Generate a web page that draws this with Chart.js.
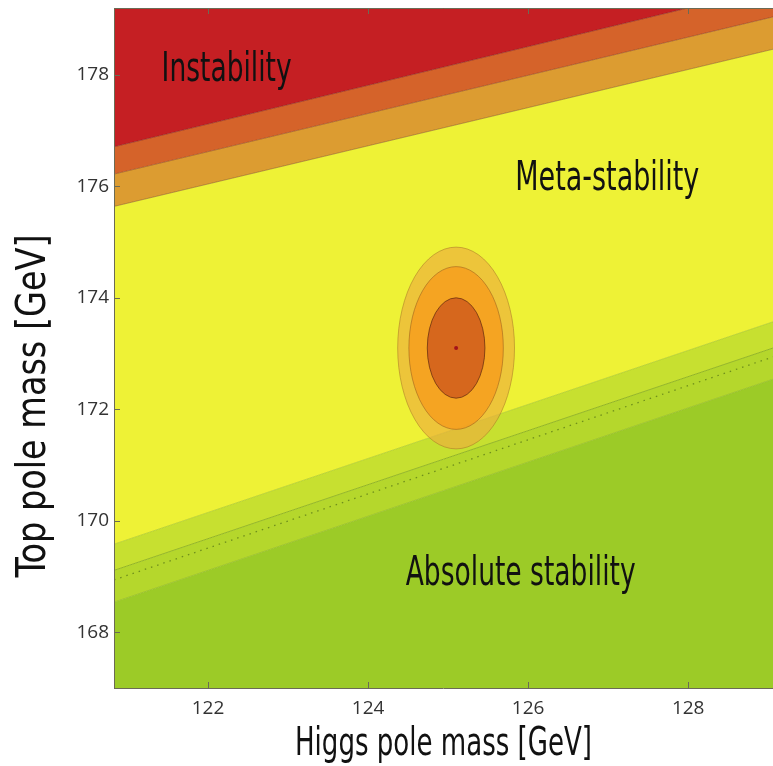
<!DOCTYPE html>
<html>
<head>
<meta charset="utf-8">
<script src="https://cdn.jsdelivr.net/npm/chart.js@4.4.1/dist/chart.umd.min.js"></script>
<style>
  html, body { margin: 0; padding: 0; background: #fff; }
  #wrap { width: 773px; height: 766px; }
</style>
</head>
<body>
<div id="wrap"><canvas id="chart" width="773" height="766"></canvas></div>
<script>
// Higgs mass at the left and right edge of the plot
const higgsEdges = [120.825, 129.06];

// top mass of each boundary line at those two edges
const instabilityEdge = [176.71, 179.57];
const orangeEdge = [176.22, 179.04];
const metaEdge = [175.64, 178.46];
const stableUpperEdge = [169.58, 173.57];
const stableLine = [169.11, 173.10];
const stableDotted = [168.94, 172.94];
const stableLowerEdge = [168.54, 172.54];

// measured point and its 1/2/3 sigma ellipses
const higgsMeasured = 125.1;
const topMeasured = 173.1;
const sigmaHiggs = [0.73, 0.59, 0.36];
const sigmaTop = [1.81, 1.46, 0.90];

const xTickLabels = [122, 124, 126, 128];
const yTickLabels = [168, 170, 172, 174, 176, 178];

const regionLabels = [
  { text: 'Instability', x: 121.42, y: 178.07 },
  { text: 'Meta-stability', x: 125.84, y: 176.12 },
  { text: 'Absolute stability', x: 124.47, y: 169.04 }
];
const regionLabelWidths = [130, 184, 230];

const narrow = "'DejaVu Sans Condensed', 'Liberation Sans Narrow', sans-serif";

function pts(vals) {
  return higgsEdges.map((h, i) => ({ x: h, y: vals[i] }));
}

function band(vals, color, fill, border) {
  return {
    data: pts(vals),
    backgroundColor: color,
    borderColor: border || 'rgba(0,0,0,0)',
    borderWidth: border ? 1 : 0,
    fill: fill,
    pointRadius: 0,
    tension: 0
  };
}

// squeezed text, the original uses a very narrow face
function drawNarrow(ctx, text, x, y, size, width, align) {
  ctx.save();
  ctx.font = size + 'px ' + narrow;
  const w = ctx.measureText(text).width;
  ctx.translate(x, y);
  ctx.scale(width / w, 1);
  ctx.textAlign = align;
  ctx.textBaseline = 'middle';
  ctx.fillText(text, 0, 0);
  ctx.restore();
}

const ellipsePlugin = {
  id: 'ellipses',
  afterDatasetsDraw(chart) {
    const { ctx, chartArea, scales: { x, y } } = chart;
    const fills = ['rgba(236,176,60,0.68)', 'rgba(246,158,30,0.86)', 'rgba(212,100,30,0.95)'];
    const lines = ['rgba(170,120,40,0.55)', 'rgba(160,100,30,0.6)', 'rgba(110,50,15,0.8)'];
    const cx = x.getPixelForValue(higgsMeasured);
    const cy = y.getPixelForValue(topMeasured);
    ctx.save();
    ctx.beginPath();
    ctx.rect(chartArea.left, chartArea.top, chartArea.width, chartArea.height);
    ctx.clip();
    sigmaHiggs.forEach((sh, i) => {
      const rx = x.getPixelForValue(higgsMeasured + sh) - cx;
      const ry = cy - y.getPixelForValue(topMeasured + sigmaTop[i]);
      ctx.beginPath();
      ctx.ellipse(cx, cy, rx, ry, 0, 0, Math.PI * 2);
      ctx.fillStyle = fills[i];
      ctx.fill();
      ctx.lineWidth = 1;
      ctx.strokeStyle = lines[i];
      ctx.stroke();
    });
    ctx.beginPath();
    ctx.arc(cx, cy, 2, 0, Math.PI * 2);
    ctx.fillStyle = '#a3121a';
    ctx.fill();

    ctx.fillStyle = '#111';
    regionLabels.forEach((l, i) => {
      drawNarrow(ctx, l.text, x.getPixelForValue(l.x), y.getPixelForValue(l.y), 40, regionLabelWidths[i], 'left');
    });
    ctx.restore();
  }
};

// inward tick marks on the frame, plus both axis titles
const framePlugin = {
  id: 'frame',
  afterDraw(chart) {
    const { ctx, chartArea: a, scales: { x, y } } = chart;
    ctx.save();
    ctx.strokeStyle = '#6b6b55';
    ctx.lineWidth = 1;
    ctx.beginPath();
    x.ticks.forEach(t => {
      if (Math.abs(t.value * 2 - Math.round(t.value * 2)) > 1e-6) return;
      const len = xTickLabels.includes(t.value) ? 6 : 3;
      const px = Math.round(x.getPixelForValue(t.value)) + 0.5;
      ctx.moveTo(px, a.bottom); ctx.lineTo(px, a.bottom - len);
      ctx.moveTo(px, a.top); ctx.lineTo(px, a.top + len);
    });
    y.ticks.forEach(t => {
      if (Math.abs(t.value * 2 - Math.round(t.value * 2)) > 1e-6) return;
      const len = yTickLabels.includes(t.value) ? 6 : 3;
      const py = Math.round(y.getPixelForValue(t.value)) + 0.5;
      ctx.moveTo(a.left, py); ctx.lineTo(a.left + len, py);
    });
    ctx.stroke();
    ctx.beginPath();
    ctx.moveTo(a.left + 0.5, a.bottom); ctx.lineTo(a.left + 0.5, a.top);
    ctx.moveTo(a.left, a.top + 0.5); ctx.lineTo(a.right, a.top + 0.5);
    ctx.moveTo(a.left, a.bottom + 0.5); ctx.lineTo(a.right, a.bottom + 0.5);
    ctx.stroke();

    ctx.fillStyle = '#111';
    drawNarrow(ctx, 'Higgs pole mass [GeV]', (a.left + a.right) / 2, 745, 39, 297, 'center');
    ctx.translate(35, 406);
    ctx.rotate(-Math.PI / 2);
    drawNarrow(ctx, 'Top pole mass [GeV]', 0, 0, 40, 343, 'center');
    ctx.restore();
  }
};

new Chart(document.getElementById('chart'), {
  type: 'line',
  data: {
    datasets: [
      band(instabilityEdge, '#c51f23', 'end', 'rgba(120,30,20,0.5)'),
      band(orangeEdge, '#d5632a', { target: 0 }, 'rgba(130,60,20,0.5)'),
      band(metaEdge, '#dc9c31', { target: 1 }, 'rgba(130,90,20,0.5)'),
      band(stableUpperEdge, '#eef236', { target: 2 }, 'rgba(170,200,40,0.7)'),
      band(stableLine, '#c7e030', { target: 3 }, '#93b527'),
      band(stableLowerEdge, '#b5d72c', { target: 4 }, 'rgba(150,190,40,0.8)'),
      band(stableLowerEdge, '#9ccb27', 'start'),
      {
        data: pts(stableDotted),
        borderColor: '#6f8f1c',
        borderWidth: 1.3,
        borderDash: [1.5, 5],
        fill: false,
        pointRadius: 0,
        order: -1
      }
    ]
  },
  options: {
    responsive: false,
    animation: false,
    layout: { padding: { top: 8, right: 0, left: 0, bottom: 0 } },
    plugins: { legend: { display: false }, tooltip: { enabled: false } },
    scales: {
      x: {
        type: 'linear',
        min: higgsEdges[0],
        max: higgsEdges[1],
        afterFit: s => { s.height = 78; s.paddingLeft = 0; s.paddingRight = 0; },
        grid: { display: false, drawTicks: false },
        border: { display: false },
        ticks: {
          stepSize: 0.5,
          autoSkip: false,
          maxRotation: 0,
          padding: 9,
          color: '#333',
          font: { family: "'Open Sans', sans-serif", size: 19 },
          callback: v => xTickLabels.includes(v) ? String(v) : null
        }
      },
      y: {
        type: 'linear',
        min: 167,
        max: 179.2,
        afterFit: s => { s.width = 114; s.paddingTop = 0; s.paddingBottom = 0; },
        grid: { display: false, drawTicks: false },
        border: { display: false },
        ticks: {
          stepSize: 0.5,
          autoSkip: false,
          padding: 5,
          color: '#333',
          font: { family: "'Open Sans', sans-serif", size: 19 },
          callback: v => yTickLabels.includes(v) ? String(v) : null
        }
      }
    }
  },
  plugins: [ellipsePlugin, framePlugin]
});
</script>
</body>
</html>
